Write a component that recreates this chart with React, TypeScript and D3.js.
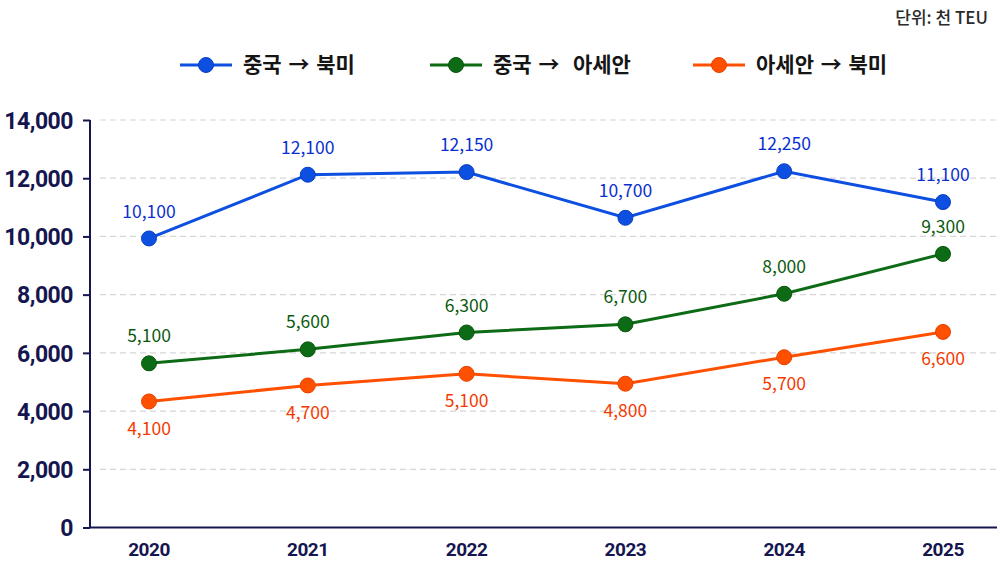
import React, { useEffect, useRef } from "react";
import * as d3 from "d3";

// values; labels are the printed text
const years = ["2020", "2021", "2022", "2023", "2024", "2025"];
const chinaNA = [9930, 12120, 12210, 10640, 12240, 11180];
const chinaAsean = [5640, 6120, 6700, 6980, 8030, 9400];
const aseanNA = [4330, 4880, 5280, 4940, 5850, 6720];
const chinaNALabels = ["10,100", "12,100", "12,150", "10,700", "12,250", "11,100"];
const chinaAseanLabels = ["5,100", "5,600", "6,300", "6,700", "8,000", "9,300"];
const aseanNALabels = ["4,100", "4,700", "5,100", "4,800", "5,700", "6,600"];
const yTicks = [0, 2000, 4000, 6000, 8000, 10000, 12000, 14000];

const series = [
  { name: "중국 → 북미", values: chinaNA, labels: chinaNALabels, color: "#0d4fe0", stroke: "#0a3fc0", text: "#0a2fd0", above: true, lx: 180 },
  { name: "중국 →  아세안", values: chinaAsean, labels: chinaAseanLabels, color: "#0c6b14", stroke: "#08550e", text: "#0c5a10", above: true, lx: 430 },
  { name: "아세안 → 북미", values: aseanNA, labels: aseanNALabels, color: "#ff5000", stroke: "#e84000", text: "#f53a00", above: false, lx: 693 },
];

const W = 1000;
const H = 576;
const navy = "#15164f";
const font = "'Noto Sans CJK KR', 'Noto Sans', sans-serif";

export default function App() {
  const svgRef = useRef<SVGSVGElement>(null);

  useEffect(() => {
    if (!svgRef.current) return;
    const svg = d3.select(svgRef.current);
    svg.selectAll("*").remove();

    const x = d3.scalePoint<string>().domain(years).range([149, 943]);
    const y = d3.scaleLinear().domain([0, 14000]).range([527.5, 120]);

    // unit note
    svg
      .append("text")
      .attr("x", 988)
      .attr("y", 24)
      .attr("text-anchor", "end")
      .attr("font-family", font)
      .attr("font-size", 17)
      .attr("font-weight", 500)
      .attr("fill", "#2a2a2a")
      .text("단위: 천 TEU");

    // grid
    svg
      .append("g")
      .selectAll("line")
      .data(yTicks.filter((t) => t > 0))
      .join("line")
      .attr("x1", 100)
      .attr("x2", 1000)
      .attr("y1", (d) => y(d))
      .attr("y2", (d) => y(d))
      .attr("stroke", "#d6d6d6")
      .attr("stroke-width", 1.2)
      .attr("stroke-dasharray", "6,4");

    // y axis
    const yAxis = svg
      .append("g")
      .attr("transform", "translate(90,0)")
      .call(
        d3
          .axisLeft(y)
          .tickValues(yTicks)
          .tickSize(7)
          .tickPadding(10)
          .tickFormat((d) => d3.format(",")(d as number))
      );
    yAxis.select(".domain").attr("stroke", navy).attr("stroke-width", 2).attr("d", `M0,${y(14000)}V${y(0)}`);
    yAxis.selectAll(".tick line").attr("stroke", navy).attr("stroke-width", 2);
    yAxis
      .selectAll(".tick text")
      .attr("fill", navy)
      .attr("font-family", "Roboto, sans-serif")
      .attr("font-size", 23)
      .attr("font-weight", 700)
      .attr("letter-spacing", "-0.5")
      .attr("dy", "0.36em");

    // x axis
    svg
      .append("line")
      .attr("x1", 89)
      .attr("x2", 997)
      .attr("y1", y(0))
      .attr("y2", y(0))
      .attr("stroke", navy)
      .attr("stroke-width", 2);
    svg
      .append("g")
      .selectAll("text")
      .data(years)
      .join("text")
      .attr("x", (d) => x(d)!)
      .attr("y", 556)
      .attr("text-anchor", "middle")
      .attr("font-family", "Roboto, sans-serif")
      .attr("font-size", 19)
      .attr("font-weight", 700)
      .attr("letter-spacing", "-0.5")
      .attr("fill", navy)
      .text((d) => d);

    const line = d3
      .line<number>()
      .x((_, i) => x(years[i])!)
      .y((d) => y(d));

    series.forEach((s) => {
      const g = svg.append("g");
      g.append("path")
        .datum(s.values)
        .attr("d", line)
        .attr("fill", "none")
        .attr("stroke", s.color)
        .attr("stroke-width", 3);
      g.selectAll("circle")
        .data(s.values)
        .join("circle")
        .attr("cx", (_, i) => x(years[i])!)
        .attr("cy", (d) => y(d))
        .attr("r", 7.5)
        .attr("fill", s.color)
        .attr("stroke", s.stroke)
        .attr("stroke-width", 1);
      g.selectAll("text")
        .data(s.values)
        .join("text")
        .attr("x", (_, i) => x(years[i])!)
        .attr("y", (d) => y(d) + (s.above ? -27 : 27))
        .attr("dy", "0.35em")
        .attr("text-anchor", "middle")
        .attr("font-family", font)
        .attr("font-size", 17.5)
        .attr("fill", s.text)
        .text((_, i) => s.labels[i]);

      // legend entry
      const lg = svg.append("g").attr("transform", `translate(${s.lx},65)`);
      lg.append("line").attr("x1", 0).attr("x2", 52).attr("stroke", s.color).attr("stroke-width", 3);
      lg.append("circle").attr("cx", 26).attr("r", 7.5).attr("fill", s.color).attr("stroke", s.stroke);
      lg.append("text")
        .attr("x", 63)
        .attr("dy", "0.35em")
        .attr("font-family", font)
        .attr("font-size", 21)
        .attr("font-weight", 700)
        .attr("word-spacing", "2")
        .attr("fill", "#151515")
        .style("white-space", "pre")
        .text(s.name);
    });
  }, []);

  return (
    <svg
      ref={svgRef}
      width={W}
      height={H}
      style={{ position: "absolute", left: 0, top: 0, background: "#fff" }}
    />
  );
}
